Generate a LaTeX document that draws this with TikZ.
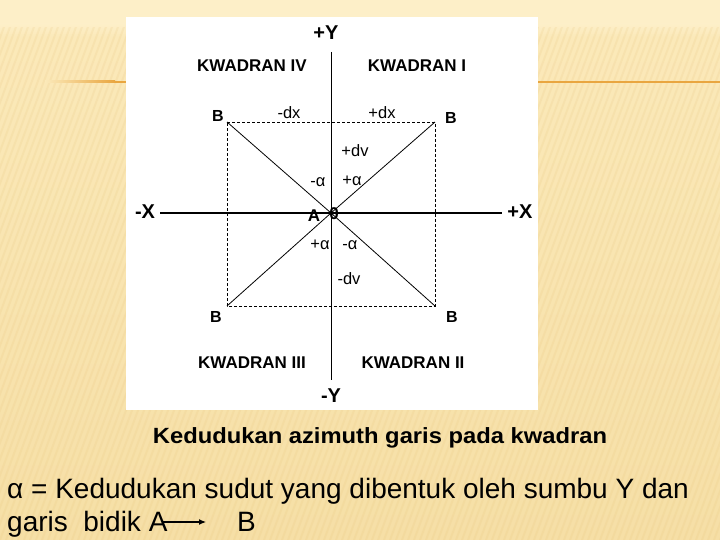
\documentclass[tikz,border=0pt]{standalone}
\usepackage{fontspec}
\setmainfont{Liberation Sans}
\usetikzlibrary{arrows.meta}
\begin{document}
\begin{tikzpicture}[x=1pt,y=-1pt,
  bold/.style={font=\fontsize{16}{16}\selectfont\bfseries, inner sep=0pt},
  kw/.style={font=\fontsize{17}{17}\selectfont\bfseries, inner sep=0pt},
  ax/.style={font=\fontsize{20}{20}\selectfont\bfseries, inner sep=0pt},
  lab/.style={font=\fontsize{16.5}{16.5}\selectfont, inner sep=0pt},
  dline/.style={line width=0.8pt, dash pattern=on 3pt off 2pt},
  diag/.style={line width=0.8pt}]
\definecolor{bgtop}{HTML}{FDEFC8}
\definecolor{bgmid}{HTML}{FBE9B9}
\definecolor{bgbot}{HTML}{F6DFA6}
\definecolor{stripe}{HTML}{E6C27A}
\definecolor{orangeline}{HTML}{E9A640}
\useasboundingbox (0,0) rectangle (720,540);
% background
\fill[bgtop] (0,0) rectangle (720,540);
\shade[top color=bgmid, bottom color=bgbot] (0,36) rectangle (720,540);
\shade[top color=bgtop, bottom color=bgmid] (0,24) rectangle (720,37);
\begin{scope}
\clip (0,28) rectangle (720,540);
\foreach \i in {-40,...,150} {
  \draw[stripe, line width=2pt, opacity=0.16] (\i*6,540) -- (\i*6+200,0);
}
\end{scope}
% orange line
\shade[left color=bgmid, right color=orangeline] (45,81) rectangle (115,83);
\fill[orangeline] (115,81) rectangle (720,83);
% white panel
\fill[white] (126,17) rectangle (538,410);
% geometry
\coordinate (O) at (331,213);
\coordinate (TL) at (227,122);
\coordinate (TR) at (435,122);
\coordinate (BL) at (227,306);
\coordinate (BR) at (435,306);
\coordinate (Ytop) at (331,52);
\coordinate (Ybot) at (331,380);
\coordinate (Xl) at (160,213);
\coordinate (Xr) at (502,213);
\draw[dline] (TL) -- (TR) -- (BR) -- (BL) -- cycle;
\draw[line width=0.9pt] (Ytop) -- (Ybot);
\draw[line width=1.8pt] (Xl) -- (Xr);
\draw[diag] (O) -- (TL);
\draw[diag] (O) -- (TR);
\draw[diag] (O) -- (BL);
\draw[diag] (O) -- (BR);
% axis labels
\node[ax] (py) at (326,33) {+Y};
\node[ax] (my) at (331,396) {-Y};
\node[ax] (mx) at (145,212) {-X};
\node[ax] (px) at (520,212) {+X};
% quadrant labels
\node[kw] (k4) at (252,66) {KWADRAN IV};
\node[kw] (k1) at (417,66) {KWADRAN I};
\node[kw] (k3) at (252,363) {KWADRAN III};
\node[kw] (k2) at (413,363) {KWADRAN II};
% B labels
\node[bold] (b1) at (218,116) {B};
\node[bold] (b2) at (451,118) {B};
\node[bold] (b3) at (216,317) {B};
\node[bold] (b4) at (452,317) {B};
% small labels
\node[lab] (mdx) at (289,113) {-dx};
\node[lab] (pdx) at (382,113) {+dx};
\node[lab] (pdv) at (355,151) {+dv};
\node[lab] (ma1) at (318,182) {-α};
\node[lab] (pa1) at (352,181) {+α};
\node[bold, font=\fontsize{17}{17}\selectfont\bfseries] (A) at (314,216) {A};
\node[bold, font=\fontsize{17}{17}\selectfont\bfseries] (zero) at (334,214) {0};
\node[lab] (pa2) at (320,245) {+α};
\node[lab] (ma2) at (350,245) {-α};
\node[lab] (mdv) at (349,279) {-dv};
% caption
\node[font=\fontsize{22}{22}\selectfont\bfseries, inner sep=0pt, xscale=1.08] (cap) at (380,438) {Kedudukan azimuth garis pada kwadran};
% bottom text
\node[font=\fontsize{28}{28}\selectfont, inner sep=0pt, anchor=base west] (l1) at (7,498) {α = Kedudukan sudut yang dibentuk oleh sumbu Y dan};
\node[font=\fontsize{28}{28}\selectfont, inner sep=0pt, anchor=base west] (l2a) at (7,531) {garis\ \ bidik A};
\node[font=\fontsize{28}{28}\selectfont, inner sep=0pt, anchor=base west] (l2b) at (237,531) {B};
\coordinate (arS) at (163,522);
\coordinate (arE) at (206,522);
\draw[line width=1.2pt, -{Latex[length=7pt,width=6pt]}] (arS) -- (arE);
\end{tikzpicture}
\end{document}
